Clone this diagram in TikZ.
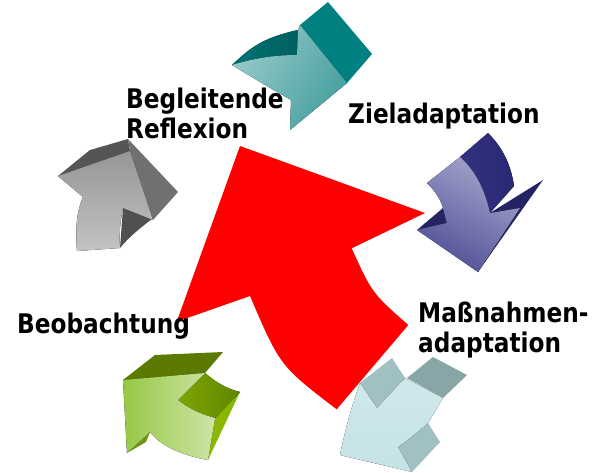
\documentclass[tikz,border=0pt]{standalone}
\usepackage{fontspec}
\newfontfamily\lblfont{DejaVu Sans Bold}[FakeStretch=0.86]
\begin{document}
\begin{tikzpicture}[x=1pt,y=-1pt,
  lbl/.style={font=\lblfont\fontsize{27}{30}\selectfont, inner sep=0pt, anchor=base west, align=left, text=black},
  redarrow/.style={fill=red},
]
\useasboundingbox (0,0) rectangle (597,472);
% ---------------- red central arrow ----------------
\coordinate (rT) at (240,146);
\coordinate (rRB) at (425,213);
\coordinate (rRN) at (351.7,248.3);
\coordinate (rRS) at (408.3,325);
\coordinate (rBS) at (336.7,409.3);
\coordinate (rLN) at (250,296);
\coordinate (rLB) at (176.7,321.7);
\fill[redarrow] (rT) -- (rRB) -- (rRN) .. controls (372,293) .. (rRS) -- (rBS) .. controls (280,366) .. (rLN) -- (rLB) -- cycle;

% ---------------- teal arrow (top) ----------------
\fill[color={rgb,255:red,0;green,128;blue,128}] (300,25) -- (328,2) -- (372,54) -- (347,83) -- cycle;
\fill[left color={rgb,255:red,0;green,115;blue,115}, right color={rgb,255:red,0;green,95;blue,95}]
  (232,65) .. controls (250,48) and (262,38) .. (298,30) -- (297,55) .. controls (275,55) and (255,58) .. (232,65) -- cycle;
\fill[left color={rgb,255:red,150;green,200;blue,200}, right color={rgb,255:red,70;green,160;blue,160}, shading angle=60]
  (232,65) .. controls (255,58) and (275,55) .. (297,55) -- (298,30) -- (300,25) -- (347,83) -- (290,130) -- (291,100) .. controls (265,85) .. (232,65) -- cycle;

% ---------------- blue arrow (right) ----------------
\fill[color={rgb,255:red,36;green,36;blue,100}] (490,213) -- (543,180) -- (478,272) -- cycle;
\fill[color={rgb,255:red,36;green,36;blue,100}] (417,230) -- (443,208) -- (447,223) -- cycle;
\fill[left color={rgb,255:red,50;green,50;blue,130}, right color={rgb,255:red,40;green,40;blue,115}]
  (460,157) -- (488,133) .. controls (503,148) and (511,165) .. (514,186) -- (490,213) .. controls (485,190) and (475,170) .. (460,157) -- cycle;
\fill[left color={rgb,255:red,165;green,165;blue,205}, right color={rgb,255:red,80;green,80;blue,150}, shading angle=-30]
  (427,183) -- (460,157) .. controls (475,170) and (485,190) .. (490,213) -- (520,208) -- (478,272) -- (417,230) -- (447,223) -- (443,208) .. controls (440,197) and (433,189) .. (427,183) -- cycle;

% ---------------- light blue arrow (bottom right) ----------------
\fill[color={rgb,255:red,160;green,192;blue,194}] (360,383) -- (392,358) -- (405,378) -- (377,408) -- cycle;
\fill[color={rgb,255:red,136;green,166;blue,168}] (407,378) -- (433,357) -- (467,375) -- (443,398) -- cycle;
\fill[color={rgb,255:red,160;green,192;blue,194}] (398,447) -- (428,423) -- (440,442) -- (412,472) -- cycle;
\fill[top color={rgb,255:red,208;green,232;blue,236}, bottom color={rgb,255:red,196;green,226;blue,230}]
  (360,383) -- (377,408) -- (405,378) -- (443,398) -- (428,423) .. controls (418,432) and (408,440) .. (398,447) -- (412,472) -- (340,455) .. controls (345,430) and (352,405) .. (360,383) -- cycle;

% ---------------- green arrow (bottom left) ----------------
\fill[color={rgb,255:red,92;green,122;blue,0}] (123,380) -- (155,355) -- (223,352) -- (205,373) -- cycle;
\fill[color={rgb,255:red,138;green,184;blue,0}] (215,418) -- (240,392) -- (208,460) -- cycle;
\fill[left color={rgb,255:red,125;green,165;blue,0}, right color={rgb,255:red,95;green,135;blue,0}]
  (178,400) -- (205,373) .. controls (218,384) and (228,389) .. (240,392) -- (215,418) .. controls (200,414) and (188,408) .. (178,400) -- cycle;
\fill[color={rgb,255:red,110;green,150;blue,20}] (127,453) -- (150,432) -- (146,442) -- cycle;
\fill[left color={rgb,255:red,150;green,200;blue,70}, right color={rgb,255:red,205;green,228;blue,165}]
  (123,380) -- (205,373) -- (178,400) .. controls (188,408) and (200,414) .. (215,418) -- (208,460) .. controls (180,455) and (160,445) .. (150,432) -- (127,453) -- cycle;

% ---------------- gray arrow (left) ----------------
\fill[color={rgb,255:red,85;green,85;blue,85}] (58,176) -- (90,150) -- (128,139) -- (130,151) -- cycle;
\fill[color={rgb,255:red,112;green,112;blue,112}] (128,139) -- (178,192) -- (153,220) -- (130,151) -- cycle;
\fill[color={rgb,255:red,80;green,80;blue,80}] (123,208) -- (152,219) .. controls (140,228) and (128,238) .. (120,248) -- cycle;
\fill[top color={rgb,255:red,150;green,150;blue,150}, bottom color={rgb,255:red,195;green,195;blue,195}]
  (58,176) -- (130,151) -- (153,220) -- (123,208) .. controls (120,222) and (119,235) .. (120,248) -- (77,251) .. controls (75,228) and (77,210) .. (83,197) -- cycle;

% ---------------- labels ----------------
\node[lbl] (reflexion) at (126,138) {Begleitende\\Reflexion};
\node[lbl] (ziel) at (348,123) {Zieladaptation};
\node[lbl] (massnahmen) at (418,352) {Maßnahmen-\\adaptation};
\node[lbl] (beob) at (17,333) {Beobachtung};
\end{tikzpicture}
\end{document}
